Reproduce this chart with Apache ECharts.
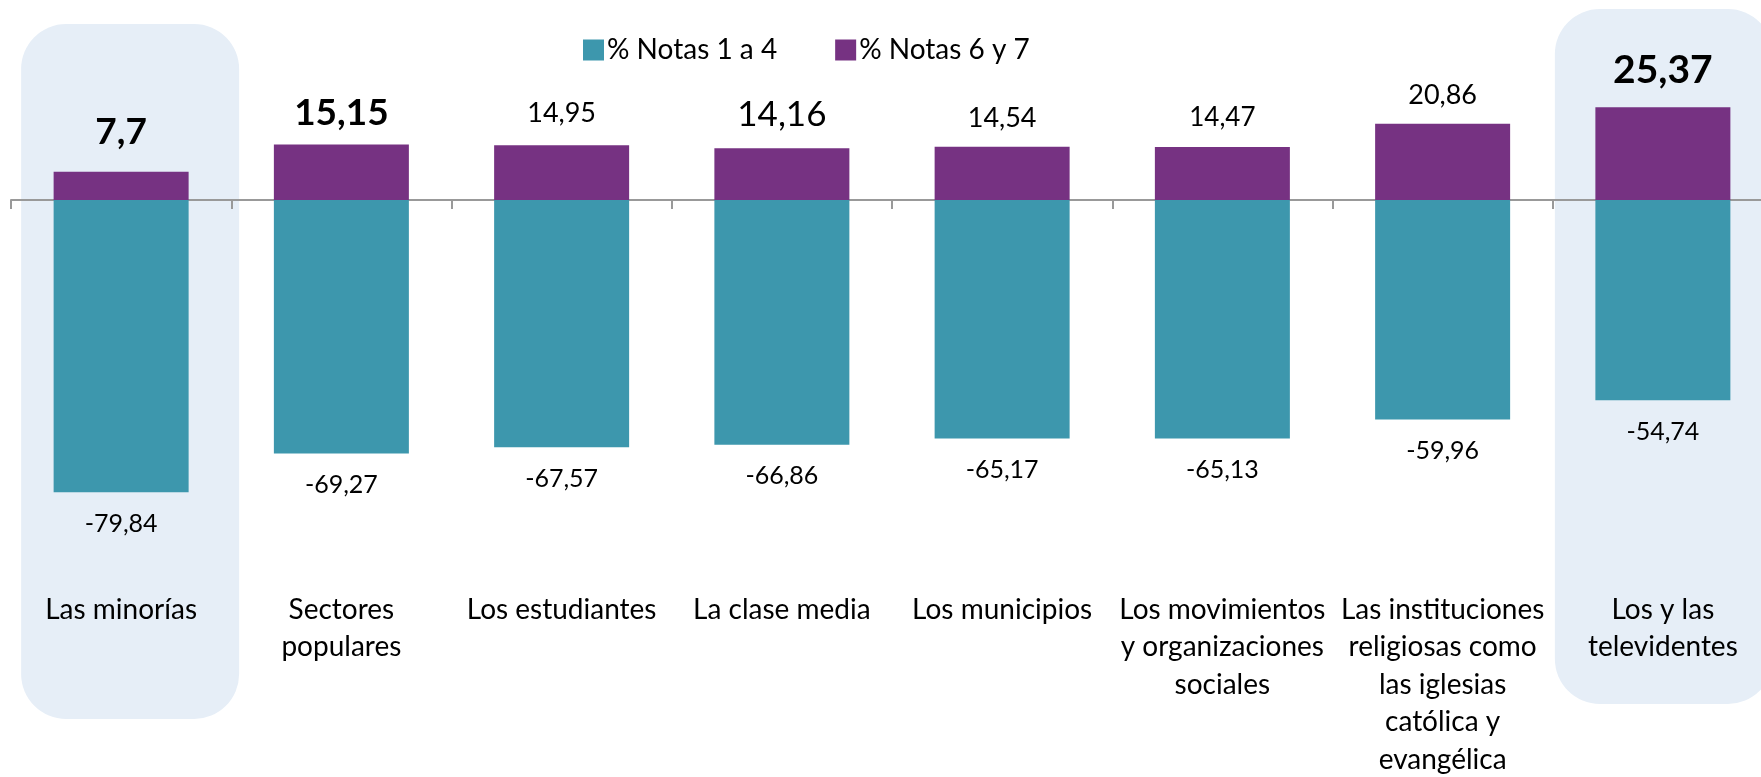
<!DOCTYPE html>
<html lang="es">
<head>
    <meta charset="UTF-8">
    <title>Notas</title>
    <script src="https://cdn.jsdelivr.net/npm/echarts@6/dist/echarts.min.js"></script>
    <style>
        html, body {
            margin: 0;
            padding: 0;
            background: #fff;
        }

        #chart {
            width: 1761px;
            height: 777px;
        }
    </style>
</head>
<body>
<div id="chart"></div>
<script>
    // datos
    const categories = [
        'Las minorías',
        'Sectores\npopulares',
        'Los estudiantes',
        'La clase media',
        'Los municipios',
        'Los movimientos\ny organizaciones\nsociales',
        'Las instituciones\nreligiosas como\nlas iglesias\ncatólica y\nevangélica',
        'Los y las\ntelevidentes'
    ];
    const notasBajas = [-79.84, -69.27, -67.57, -66.86, -65.17, -65.13, -59.96, -54.74];
    const notasAltas = [7.7, 15.15, 14.95, 14.16, 14.54, 14.47, 20.86, 25.37];
    const seriesNames = ['% Notas 1 a 4', '% Notas 6 y 7'];
    const highlighted = [0, 7];

    // estilo de etiquetas de la serie positiva (como en el original)
    const topFont = [37, 37, 27, 35, 27, 26, 27, 39];
    const topBold = [true, true, false, false, false, false, false, true];
    const topDist = [21, 13, 18, 16, 15, 16, 15, 17];

    const FONT = 'Lato, "Noto Sans", sans-serif';
    const fmt = v => String(v).replace('.', ',');

    var chart = echarts.init(document.getElementById('chart'));

    chart.setOption({
        animation: false,
        textStyle: {fontFamily: FONT, color: '#000'},
        legend: {
            left: 578,
            top: 31,
            icon: 'rect',
            itemWidth: 21,
            itemHeight: 21,
            itemGap: 58,
            itemStyle: {borderWidth: 0},
            textStyle: {fontFamily: FONT, fontSize: 28, color: '#000', padding: [0, 0, 0, -2]},
            data: seriesNames
        },
        grid: {left: 11, width: 1762, top: 17, bottom: 211, containLabel: false, outerBoundsMode: 'none'},
        xAxis: [
            {
                type: 'category',
                data: categories,
                axisLine: {onZero: true, lineStyle: {color: '#999', width: 2}},
                axisTick: {show: true, length: 9, lineStyle: {color: '#999', width: 2}},
                axisLabel: {show: false}
            },
            {
                // eje solo para los nombres de categoría, al pie del área
                type: 'category',
                position: 'bottom',
                data: categories,
                axisLine: {show: false, onZero: false},
                axisTick: {show: false},
                axisLabel: {
                    interval: 0,
                    hideOverlap: false,
                    margin: 25,
                    fontFamily: FONT,
                    fontSize: 28,
                    lineHeight: 37.5,
                    color: '#000'
                }
            }
        ],
        yAxis: {
            type: 'value',
            min: -100,
            max: 50,
            show: false,
            splitLine: {show: false}
        },
        series: [
            {
                name: seriesNames[0],
                type: 'bar',
                stack: 'total',
                barWidth: 135,
                itemStyle: {color: '#3D97AD'},
                label: {
                    show: true,
                    position: 'bottom',
                    distance: 19,
                    fontFamily: FONT,
                    fontSize: 25,
                    color: '#000',
                    formatter: p => fmt(p.value)
                },
                data: notasBajas
            },
            {
                name: seriesNames[1],
                type: 'bar',
                stack: 'total',
                barWidth: 135,
                itemStyle: {color: '#763282'},
                data: notasAltas.map((v, i) => ({
                    value: v,
                    label: {
                        show: true,
                        position: 'top',
                        distance: topDist[i],
                        fontFamily: FONT,
                        fontSize: topFont[i],
                        fontWeight: topBold[i] ? 'bold' : 'normal',
                        color: '#000',
                        formatter: p => fmt(p.value)
                    }
                }))
            }
        ]
    });

    // cajas de resaltado detrás de las categorías destacadas
    const boxLeft = [-100, -108];
    const boxTop = [24, 9];
    const boxes = highlighted.map((idx, k) => {
        const cx = chart.convertToPixel({xAxisIndex: 0}, idx);
        return {
            type: 'rect',
            z: -10,
            shape: {x: cx + boxLeft[k], y: boxTop[k], width: 218, height: 695, r: 45},
            style: {fill: '#E6EEF7'}
        };
    });
    chart.setOption({graphic: boxes});
</script>
</body>
</html>
